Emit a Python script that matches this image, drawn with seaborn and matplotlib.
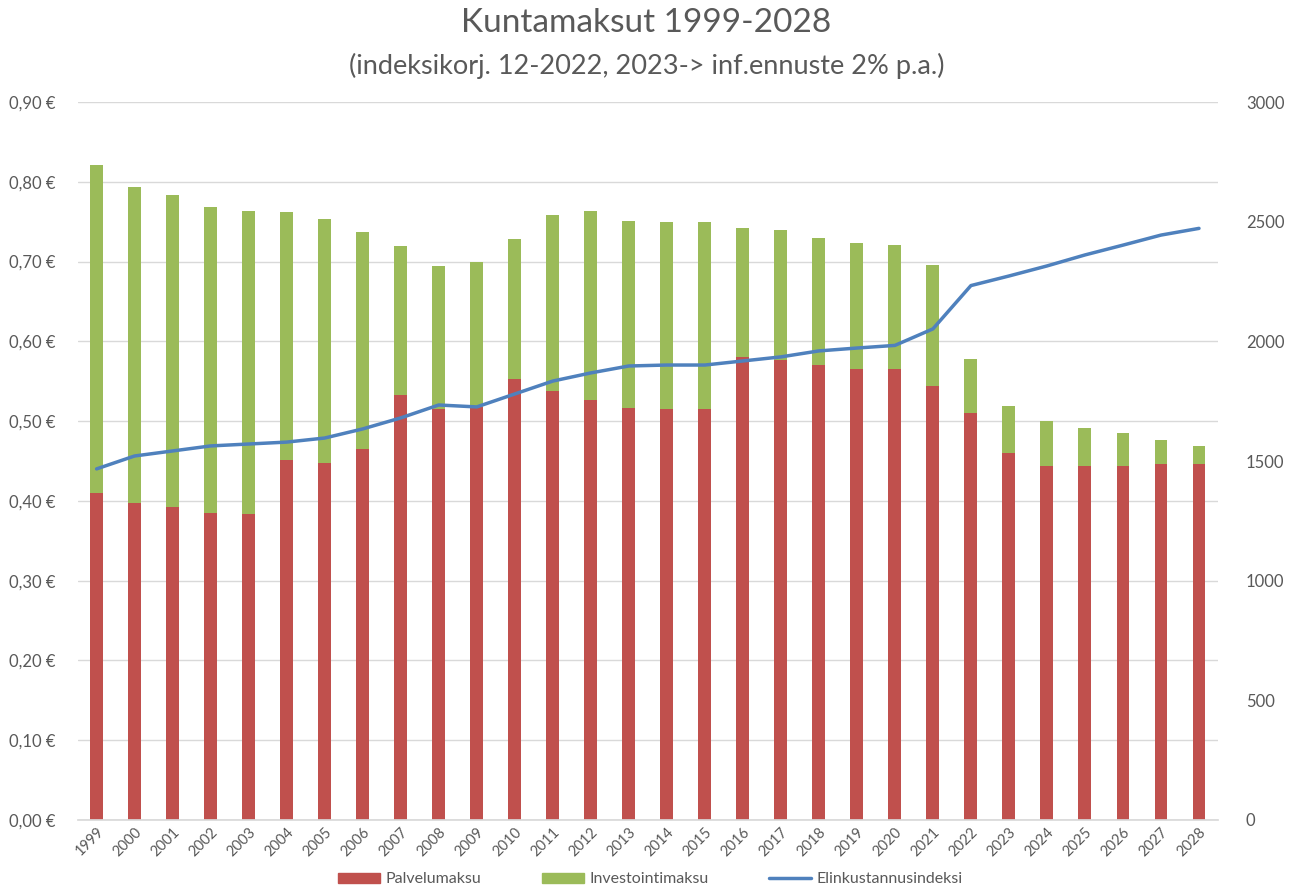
import numpy as np
import pandas as pd
import matplotlib
matplotlib.use("Agg")
import matplotlib.pyplot as plt
import seaborn as sns
from matplotlib.patches import Patch
from matplotlib.lines import Line2D

years = [str(y) for y in range(1999, 2029)]

# Palvelumaksu (red part), EUR
palvelumaksu = [0.410, 0.397, 0.392, 0.385, 0.383, 0.451, 0.447, 0.465, 0.533, 0.515,
                0.518, 0.553, 0.538, 0.526, 0.517, 0.515, 0.515, 0.580, 0.577, 0.570,
                0.565, 0.565, 0.544, 0.510, 0.460, 0.444, 0.444, 0.444, 0.446, 0.446]
# total height of the stacked bar (Palvelumaksu + Investointimaksu)
kokonais = [0.821, 0.794, 0.783, 0.769, 0.764, 0.762, 0.753, 0.737, 0.719, 0.694,
            0.699, 0.728, 0.758, 0.764, 0.751, 0.749, 0.749, 0.742, 0.739, 0.730,
            0.723, 0.721, 0.696, 0.578, 0.519, 0.500, 0.491, 0.485, 0.476, 0.469]
investointimaksu = [round(t - p, 3) for t, p in zip(kokonais, palvelumaksu)]
# Elinkustannusindeksi (right axis)
indeksi = [1467, 1521, 1542, 1563, 1571, 1579, 1596, 1634, 1680, 1734,
           1726, 1780, 1834, 1868, 1897, 1901, 1901, 1918, 1935, 1960,
           1972, 1983, 2052, 2233, 2273, 2315, 2361, 2402, 2444, 2472]

RED = "#C0504D"
GREEN = "#9BBB59"
BLUE = "#4F81BD"
TXT = "#595959"

df = pd.DataFrame({"vuosi": years, "palvelu": palvelumaksu,
                   "invest": investointimaksu, "indeksi": indeksi})
df["total"] = df["palvelu"] + df["invest"]

sns.set_theme(style="white")
plt.rcParams["font.family"] = ["Lato", "DejaVu Sans"]

fig = plt.figure(figsize=(12.93, 8.91), dpi=100)
ax = fig.add_axes([0.060, 0.0797, 0.882, 0.8058])

sns.barplot(data=df, x="vuosi", y="total", color=GREEN, width=0.34,
            saturation=1, linewidth=0, ax=ax)
sns.barplot(data=df, x="vuosi", y="palvelu", color=RED, width=0.34,
            saturation=1, linewidth=0, ax=ax)

ax.set_ylim(0, 0.9)
ax.set_xlim(-0.5, len(years) - 0.5)
yt = np.arange(0, 0.91, 0.1)
ax.set_yticks(yt)
ax.set_yticklabels([f"{v:.2f} €".replace(".", ",") for v in yt], color=TXT, fontsize=12)
ax.yaxis.grid(True, color="#D9D9D9", linewidth=1)
ax.set_axisbelow(True)
ax.set_xlabel("")
ax.set_ylabel("")
for s in ["top", "right", "left"]:
    ax.spines[s].set_visible(False)
ax.spines["bottom"].set_color("#D9D9D9")
ax.tick_params(axis="both", length=0)
ax.tick_params(axis="y", pad=16)
plt.setp(ax.get_xticklabels(), rotation=45, ha="right", rotation_mode="anchor",
         color=TXT, fontsize=10.5)

ax2 = ax.twinx()
sns.lineplot(x=np.arange(len(years)), y=df["indeksi"], color=BLUE, linewidth=2.5,
             ax=ax2)
ax2.set_ylim(0, 3000)
ax2.set_yticks(np.arange(0, 3001, 500))
ax2.set_yticklabels([str(v) for v in range(0, 3001, 500)], color=TXT, fontsize=12)
ax2.set_ylabel("")
for s in ax2.spines.values():
    s.set_visible(False)
ax2.tick_params(axis="y", length=0, pad=20)

fig.text(0.5, 0.974, "Kuntamaksut 1999-2028", ha="center", va="center",
         fontsize=24, color=TXT)
fig.text(0.5, 0.926, "(indeksikorj. 12-2022, 2023-> inf.ennuste 2% p.a.)",
         ha="center", va="center", fontsize=19.5, color=TXT)

handles = [Patch(color=RED, label="Palvelumaksu"),
           Patch(color=GREEN, label="Investointimaksu"),
           Line2D([], [], color=BLUE, linewidth=2.5, label="Elinkustannusindeksi")]
leg = fig.legend(handles=handles, loc="center", bbox_to_anchor=(0.503, 0.013),
                 ncol=3, frameon=False, fontsize=11.5, handlelength=2.6,
                 handleheight=0.55, handletextpad=0.35, columnspacing=3.8)
for t in leg.get_texts():
    t.set_color(TXT)

fig.savefig("out.png", dpi=100)
